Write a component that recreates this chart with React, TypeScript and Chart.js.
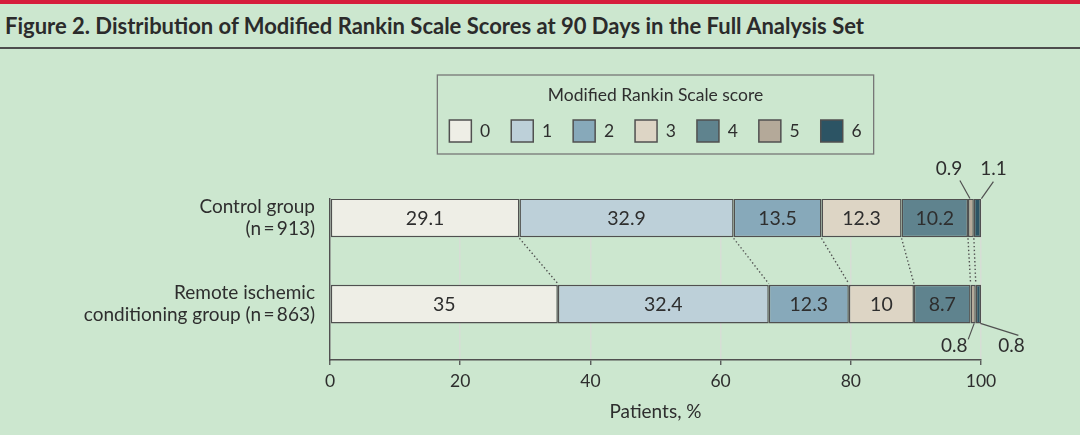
import React, { useEffect, useRef } from 'react';
import { Chart, registerables } from 'chart.js';

Chart.register(...registerables);

const groupLabels = [
  ['Control group', '(n\u2009=\u2009913)'],
  ['Remote ischemic', 'conditioning group (n\u2009=\u2009863)'],
];
const scores = ['0', '1', '2', '3', '4', '5', '6'];
const controlPct = [29.1, 32.9, 13.5, 12.3, 10.2, 0.9, 1.1];
const remotePct = [35, 32.4, 12.3, 10, 8.7, 0.8, 0.8];
const scoreColors = ['#eeeee6', '#bdd0d9', '#87a9ba', '#ddd5c5', '#5f838e', '#b4a999', '#2c5464'];

const FONT = 'Lato, "Noto Sans", sans-serif';
const TEXT = '#2e2e2e';
const LINE = '#505050';

// callouts for the thin 5 / 6 segments: text offset + leader line, relative to segment centre / bar edge
const callouts = [
  { ds: 5, row: 0, tx: -22, ty: -30, from: [-11, -18], to: [-1, 0] },
  { ds: 6, row: 0, tx: 16, ty: -30, from: [16, -17], to: [4, 0] },
  { ds: 5, row: 1, tx: -19, ty: 22, from: [-5, 16], to: [1, 0] },
  { ds: 6, row: 1, tx: 33, ty: 22, from: [40, 12], to: [2, 0] },
];

// legend.update() only calls fit(), so wrap that to leave room for the callouts
const legendSpacer = {
  id: 'legendSpacer',
  beforeLayout(chart: any) {
    const lg = chart.legend;
    if (!lg || lg._spaced) return;
    const fit = lg.fit;
    lg.fit = function () { fit.call(this); this.height = 124; };
    lg._spaced = true;
  },
};

const legendFrame = {
  id: 'legendFrame',
  afterDraw(chart: any) {
    const lg = chart.legend;
    if (!lg || !lg.legendHitBoxes?.length) return;
    const hb = lg.legendHitBoxes;
    const left = Math.min(...hb.map((h: any) => h.left)) - 12;
    const right = Math.max(...hb.map((h: any) => h.left + h.width)) + 12;
    const bottom = Math.max(...hb.map((h: any) => h.top + h.height)) + 12;
    const ctx = chart.ctx;
    ctx.save();
    ctx.strokeStyle = '#777777';
    ctx.lineWidth = 1.3;
    ctx.strokeRect(left, lg.top, right - left, bottom - lg.top);
    ctx.restore();
  },
};

const barLabels = {
  id: 'barLabels',
  afterDatasetsDraw(chart: any) {
    const ctx = chart.ctx;
    const xs = chart.scales.x;
    ctx.save();
    // dotted connectors between cumulative boundaries
    const c0 = chart.getDatasetMeta(0).data[0];
    const r0 = chart.getDatasetMeta(0).data[1];
    const cBottom = c0.y + c0.height / 2;
    const rTop = r0.y - r0.height / 2;
    ctx.strokeStyle = LINE;
    ctx.lineWidth = 1.4;
    ctx.setLineDash([1.4, 2.4]);
    let cc = 0, rc = 0;
    for (let k = 0; k < scores.length - 1; k++) {
      cc += controlPct[k]; rc += remotePct[k];
      ctx.beginPath();
      ctx.moveTo(xs.getPixelForValue(cc), cBottom + 1);
      ctx.lineTo(xs.getPixelForValue(rc), rTop - 1);
      ctx.stroke();
    }
    ctx.setLineDash([]);

    ctx.font = `19.5px ${FONT}`;
    ctx.fillStyle = TEXT;
    ctx.textAlign = 'center';
    ctx.textBaseline = 'middle';
    chart.data.datasets.forEach((ds: any, i: number) => {
      chart.getDatasetMeta(i).data.forEach((el: any, j: number) => {
        const v = ds.data[j].x;
        if (v < 2) return;
        ctx.fillText(String(v), (el.x + el.base) / 2, el.y + 1);
      });
    });

    ctx.font = `19px ${FONT}`;
    ctx.lineWidth = 1.2;
    callouts.forEach(c => {
      const el = chart.getDatasetMeta(c.ds).data[c.row];
      const cx = (el.x + el.base) / 2;
      const edge = c.row === 0 ? el.y - el.height / 2 : el.y + el.height / 2;
      const v = chart.data.datasets[c.ds].data[c.row].x;
      ctx.fillText(String(v), cx + c.tx, edge + c.ty);
      ctx.beginPath();
      ctx.moveTo(cx + c.from[0], edge + c.from[1]);
      ctx.lineTo(cx + c.to[0], edge + c.to[1]);
      ctx.stroke();
    });
    ctx.restore();
  },
};

export default function App() {
  const canvasRef = useRef<HTMLCanvasElement>(null);

  useEffect(() => {
    document.body.style.margin = '0';
    if (!canvasRef.current) return;

    const datasets = scores.map((s, i) => ({
      label: s,
      stack: 'mrs',
      data: [{ x: controlPct[i], y: 0 }, { x: remotePct[i], y: 1 }],
      backgroundColor: scoreColors[i],
      borderColor: LINE,
      borderWidth: 1.5,
      borderSkipped: false,
      barPercentage: 0.9,
      categoryPercentage: 0.5,
    }));

    const chart = new Chart(canvasRef.current, {
      type: 'bar',
      data: { datasets },
      options: {
        indexAxis: 'y',
        animation: false,
        responsive: true,
        maintainAspectRatio: false,
        layout: { padding: { top: 26, right: 99, bottom: 0, left: 0 } },
        plugins: {
          tooltip: { enabled: false },
          legend: {
            position: 'top',
            fullSize: false,
            title: {
              display: true,
              text: 'Modified Rankin Scale score',
              color: TEXT,
              font: { family: FONT, size: 17.5 },
              padding: { top: 12, bottom: -9 },
            },
            labels: {
              boxWidth: 22,
              boxHeight: 22,
              padding: 21,
              color: TEXT,
              font: { family: FONT, size: 17.5 },
            },
          },
        },
        scales: {
          x: {
            type: 'linear',
            stacked: true,
            min: 0,
            max: 100,
            afterFit: (s: any) => { s.height = 75; },
            ticks: { stepSize: 20, color: TEXT, padding: 6, font: { family: FONT, size: 17.5 } },
            grid: { color: '#d6ded5', lineWidth: 1.5, tickColor: LINE, tickLength: 5, tickWidth: 1.3 },
            border: { color: LINE, width: 1.4 },
            title: {
              display: true,
              text: 'Patients, %',
              color: TEXT,
              font: { family: FONT, size: 19 },
              padding: { top: 0, bottom: 12 },
            },
          },
          y: {
            type: 'linear',
            offset: false,
            reverse: true,
            min: -0.22,
            max: 1.65,
            afterFit: (s: any) => { s.width = 330; },
            afterBuildTicks: (s: any) => { s.ticks = [{ value: 0 }, { value: 1 }]; },
            ticks: {
              color: TEXT,
              padding: 15,
              font: { family: FONT, size: 19, lineHeight: 1.16 },
              callback: (v: any) => groupLabels[v] ?? '',
            },
            grid: { display: false, drawTicks: false, offset: false },
            border: { color: LINE, width: 1.4 },
          },
        },
      },
      plugins: [legendSpacer, legendFrame, barLabels],
    } as any);

    return () => chart.destroy();
  }, []);

  return (
    <div style={{ width: 1080, height: 435, background: '#cce7cf', fontFamily: FONT, overflow: 'hidden' }}>
      <div style={{ height: 4, background: '#d61d3c' }} />
      <div style={{
        height: 43, lineHeight: '43px', paddingLeft: 5, fontSize: 22, fontWeight: 700,
        color: '#2b2b2b', borderBottom: '2px solid #4d4d4d', whiteSpace: 'nowrap',
      }}>
        Figure 2. Distribution of Modified Rankin Scale Scores at 90 Days in the Full Analysis Set
      </div>
      <div style={{ position: 'relative', width: 1080, height: 386 }}>
        <canvas ref={canvasRef} />
      </div>
    </div>
  );
}
